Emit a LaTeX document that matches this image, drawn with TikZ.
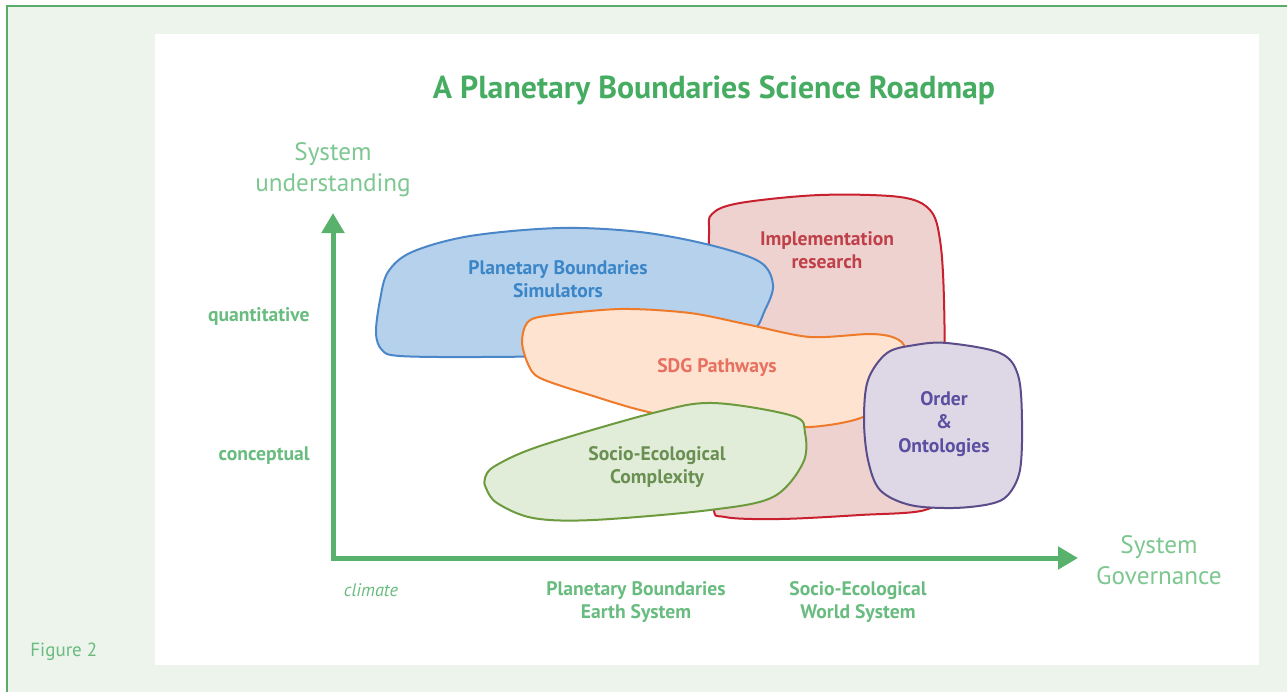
\documentclass[tikz,border=0pt]{standalone}
\usepackage{fontspec}
\setmainfont{PT Sans}
\usetikzlibrary{arrows.meta}
\definecolor{bgg}{RGB}{236,244,236}
\definecolor{frameg}{RGB}{88,172,104}
\definecolor{titleg}{RGB}{70,172,98}
\definecolor{lightg}{RGB}{125,199,145}
\definecolor{axisg}{RGB}{88,178,108}
\definecolor{tickg}{RGB}{105,188,127}
\definecolor{redfill}{RGB}{237,210,208}
\definecolor{redline}{RGB}{200,32,46}
\definecolor{redtext}{RGB}{192,64,74}
\definecolor{bluefill}{RGB}{181,209,236}
\definecolor{blueline}{RGB}{74,134,200}
\definecolor{bluetext}{RGB}{58,134,200}
\definecolor{orfill}{RGB}{253,227,208}
\definecolor{orline}{RGB}{238,122,42}
\definecolor{ortext}{RGB}{232,112,96}
\definecolor{grfill}{RGB}{225,237,216}
\definecolor{grline}{RGB}{110,154,62}
\definecolor{grtext}{RGB}{106,143,82}
\definecolor{pufill}{RGB}{221,215,230}
\definecolor{puline}{RGB}{91,76,138}
\definecolor{putext}{RGB}{91,79,160}
\tikzset{
  blob/.style={line width=1pt, line join=round},
  bloblabel/.style={font=\bfseries\fontsize{9.8}{11.5}\selectfont, align=center, inner sep=0pt},
  ticklabel/.style={font=\bfseries\fontsize{9.8}{11.5}\selectfont, text=tickg, align=center, inner sep=0pt},
  axislabel/.style={font=\fontsize{12.6}{15.5}\selectfont, text=lightg, align=center, inner sep=0pt},
  axisline/.style={draw=axisg, line width=2.5pt, line join=miter, {Triangle[length=10pt,width=11pt]}-{Triangle[length=10pt,width=11pt]}}
}
\begin{document}
\begin{tikzpicture}[x=0.5pt,y=-0.5pt]
\useasboundingbox (0,0) rectangle (1287,692);
\fill[white] (0,0) rectangle (1287,692);
\fill[bgg] (6,5) rectangle (1287,692);
\draw[frameg, line width=1pt] (6.5,692) -- (6.5,5.5) -- (1287,5.5);
\fill[white] (155,34) rectangle (1259,665);

% title
\node[font=\bfseries\fontsize{15.9}{18}\selectfont, text=titleg, inner sep=0pt] (title) at (714,90) {A Planetary Boundaries Science Roadmap};

% blobs
\filldraw[blob, fill=redfill, draw=redline] plot[smooth cycle, tension=0.55] coordinates {(709,235) (712,214) (740,203) (820,195) (900,197) (930,210) (940,240) (944,300) (945,420) (942,490) (925,510) (860,515) (780,519) (725,517) (713,505) (710,420) (709,320)};

\filldraw[blob, fill=bluefill, draw=blueline] plot[smooth cycle, tension=0.55] coordinates {(376,333) (380,300) (388,272) (412,252) (470,236) (560,228) (640,232) (710,245) (760,262) (773,285) (765,310) (750,333) (700,348) (600,355) (480,357) (400,356) (382,350)};

\filldraw[blob, fill=orfill, draw=orline] plot[smooth cycle, tension=0.5] coordinates {(522,342) (527,323) (545,316) (620,309) (690,313) (750,325) (810,337) (870,334) (895,338) (905,350) (895,390) (863,417) (810,427) (740,425) (653,413) (590,395) (540,378) (528,364)};

\filldraw[blob, fill=grfill, draw=grline] plot[smooth cycle, tension=0.55] coordinates {(485,478) (495,466) (540,446) (653,413) (713,403) (793,416) (805,433) (803,463) (773,497) (710,510) (593,520) (533,518) (497,503) (486,488)};

\filldraw[blob, fill=pufill, draw=puline] plot[smooth cycle, tension=0.55] coordinates {(864,420) (868,380) (887,353) (915,345) (947,343) (1000,353) (1018,375) (1022,420) (1020,470) (1008,495) (990,504) (953,508) (910,505) (880,490) (868,460)};

% blob labels
\node[bloblabel, text=redtext] (impl) at (827,250) {Implementation\\research};
\node[bloblabel, text=bluetext] (pbs) at (558,279) {Planetary Boundaries\\Simulators};
\node[bloblabel, text=ortext] (sdg) at (717,368) {SDG Pathways};
\node[bloblabel, text=grtext] (sec) at (657,467) {Socio-Ecological\\Complexity};
\node[bloblabel, text=putext, font=\bfseries\fontsize{9.8}{11.75}\selectfont] (ord) at (944,424) {Order\\\&\\Ontologies};

% axes
\coordinate (ytip) at (333,213);
\coordinate (corner) at (333,558);
\coordinate (xtip) at (1078,558);
\draw[axisline] (ytip) -- (corner) -- (xtip);

\node[axislabel] (yl) at (333,170) {System\\understanding};
\node[axislabel] (xl) at (1159,560) {System\\Governance};

\node[ticklabel, anchor=east] (quant) at (310,316) {quantitative};
\node[ticklabel, anchor=east] (conc) at (310,456) {conceptual};
\node[font=\itshape\fontsize{9.1}{10}\selectfont, text=tickg, inner sep=0pt] (clim) at (371,590) {climate};
\node[ticklabel] (pbes) at (636,602) {Planetary Boundaries\\Earth System};
\node[ticklabel] (sews) at (858,602) {Socio-Ecological\\World System};

\node[font=\fontsize{9.5}{11}\selectfont, text=tickg, anchor=west, inner sep=0pt] (fig) at (30,652) {Figure 2};
\end{tikzpicture}
\end{document}
